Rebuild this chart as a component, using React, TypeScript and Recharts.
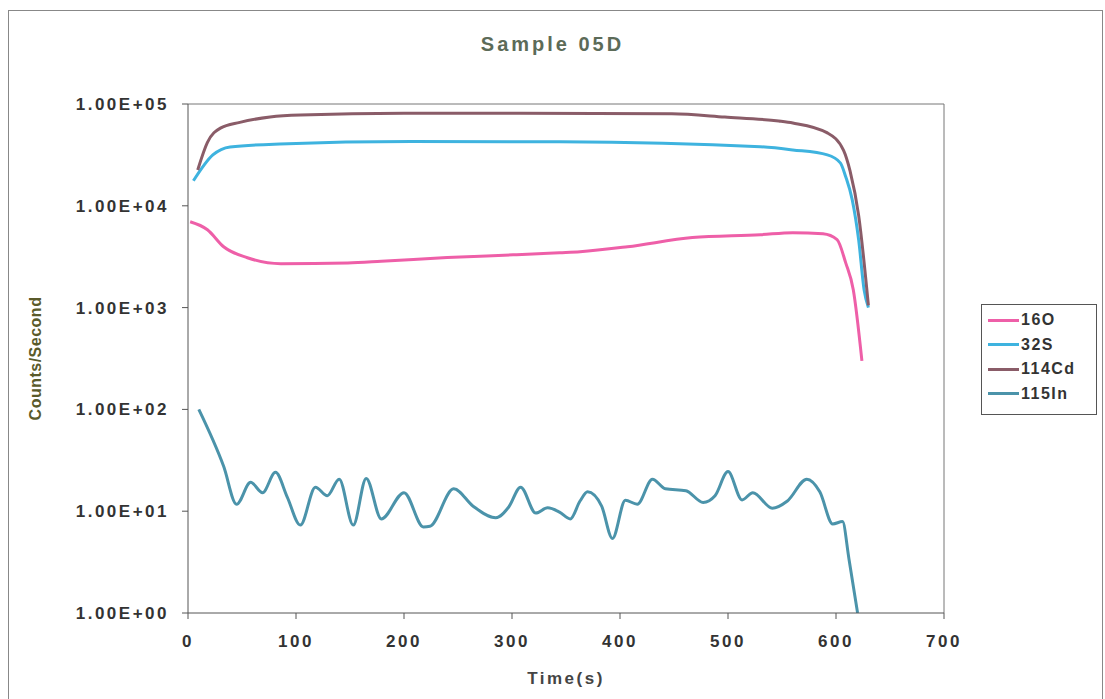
import { LineChart, Line, XAxis, YAxis, ReferenceLine } from 'recharts';

// time (s) / counts per second
const o16Time = [2, 18, 33, 55, 86, 148, 179, 240, 301, 344, 363, 407, 467, 530, 560, 588, 601, 609, 616, 624];
const o16Counts = [6970, 5820, 3960, 3090, 2700, 2750, 2850, 3100, 3300, 3460, 3540, 3960, 4870, 5200, 5450, 5300, 4650, 2750, 1500, 300];

const s32Time = [5, 23, 39, 85, 207, 344, 530, 560, 592, 604, 609, 615, 621, 626, 630];
const s32Counts = [17600, 31600, 37900, 40500, 42700, 42500, 38000, 35400, 31600, 26400, 19300, 11500, 4600, 1500, 1000];

const cd114Time = [9, 18, 30, 48, 76, 104, 200, 300, 448, 497, 547, 560, 592, 607, 613, 621, 630];
const cd114Counts = [22500, 42000, 58000, 66000, 74600, 78000, 81000, 81000, 80000, 74500, 68000, 65000, 52000, 35000, 22000, 8000, 1050];

const in115Time = [10, 33, 45, 58, 69, 81, 92, 104, 118, 129, 140, 153, 165, 179, 200, 218, 224, 246, 264, 285, 297, 308, 322, 333, 344, 354, 363, 370, 383, 393, 405, 416, 430, 442, 461, 477, 488, 500, 513, 523, 541, 555, 573, 585, 597, 606, 612, 620];
const in115Counts = [100, 27.6, 11.7, 19.2, 15.2, 24.1, 13.7, 7.3, 17.2, 14.2, 20.6, 7.3, 21, 8.4, 15.2, 7.0, 7.1, 16.6, 11.2, 8.6, 11, 17.2, 9.6, 10.8, 9.8, 8.4, 12.6, 15.5, 11.2, 5.4, 12.8, 11.7, 20.6, 16.6, 15.9, 12.2, 14.2, 24.5, 12.9, 15.2, 10.7, 12.6, 20.6, 15.5, 7.5, 7.9, 3.4, 1.0];

const xTicks = [0, 100, 200, 300, 400, 500, 600, 700];
const yTicks = [1, 10, 100, 1000, 10000, 100000];

const series = [
  { name: '16O', color: '#ee5fa8', time: o16Time, counts: o16Counts },
  { name: '32S', color: '#3eb3df', time: s32Time, counts: s32Counts },
  { name: '114Cd', color: '#8a5c68', time: cd114Time, counts: cd114Counts },
  { name: '115In', color: '#4b93aa', time: in115Time, counts: in115Counts },
];

const toRows = (time: number[], counts: number[]) => time.map((t, i) => ({ t, v: counts[i] }));

const sci = (v: number) => {
  const exp = Math.round(Math.log10(v));
  return `1.00E+${String(exp).padStart(2, '0')}`;
};

const font = '"Liberation Sans", Arial, sans-serif';
const tickStyle = { fill: '#333', fontFamily: font, fontSize: 17, fontWeight: 'bold', letterSpacing: 2.5 };

function LegendBox() {
  return (
    <div style={{ position: 'absolute', left: 981, top: 304, width: 116, height: 111, border: '1px solid #555', background: '#fff', padding: '3px 0 0 6px', fontFamily: font, fontWeight: 'bold', fontSize: 16, color: '#333', boxSizing: 'border-box' }}>
      {series.map((s) => (
        <div key={s.name} style={{ display: 'flex', alignItems: 'center', height: 24.5, letterSpacing: 1.5 }}>
          <span style={{ display: 'inline-block', width: 31, height: 3, background: s.color, marginRight: 2 }} />
          {s.name}
        </div>
      ))}
    </div>
  );
}

export default function App() {
  return (
    <div style={{ position: 'absolute', left: 0, top: 0, width: 1105, height: 699, background: '#fff', overflow: 'hidden' }}>
      <div style={{ position: 'absolute', left: 8, top: 10, width: 1095, height: 700, border: '1px solid #888', boxSizing: 'border-box' }} />
      <div style={{ position: 'absolute', left: 0, top: 33, width: 1105, textAlign: 'center', fontFamily: font, fontWeight: 'bold', fontSize: 20, letterSpacing: 3, color: '#5c6b58' }}>
        Sample 05D
      </div>
      <LineChart width={1105} height={699} margin={{ top: 104, right: 161, bottom: 13, left: 20 }}>
        <XAxis
          type="number"
          dataKey="t"
          domain={[0, 700]}
          ticks={xTicks}
          stroke="#555"
          tickSize={6}
          tickMargin={16}
          height={73}
          tick={tickStyle}
          label={{ value: 'Time(s)', position: 'insideBottom', offset: 2, fill: '#444', fontFamily: font, fontSize: 17, fontWeight: 'bold', letterSpacing: 2.5 }}
        />
        <YAxis
          type="number"
          scale="log"
          domain={[1, 100000]}
          ticks={yTicks}
          allowDataOverflow
          tickFormatter={sci}
          stroke="#555"
          width={168}
          tickSize={6}
          tickMargin={13}
          tick={tickStyle}
          label={{ value: 'Counts/Second', angle: -90, position: 'insideLeft', offset: 15, style: { textAnchor: 'middle' }, fill: '#5a5a2a', fontFamily: font, fontSize: 16, fontWeight: 'bold', letterSpacing: 0.5 }}
        />
        <ReferenceLine y={100000} stroke="#777" />
        <ReferenceLine x={700} stroke="#777" />
        {series.map((s) => (
          <Line
            key={s.name}
            name={s.name}
            data={toRows(s.time, s.counts)}
            dataKey="v"
            type="monotone"
            stroke={s.color}
            strokeWidth={3}
            dot={false}
            isAnimationActive={false}
          />
        ))}
      </LineChart>
      <LegendBox />
    </div>
  );
}
